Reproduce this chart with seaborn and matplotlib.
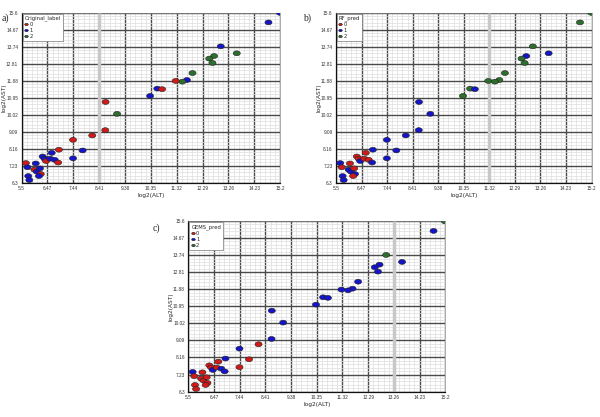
import numpy as np
import pandas as pd
import matplotlib
matplotlib.use("Agg")
import matplotlib.pyplot as plt
from matplotlib.path import Path
from matplotlib.ticker import FixedLocator
import seaborn as sns

# log2 values
alt = [15.19, 14.76, 12.97, 13.57, 12.72, 12.54, 12.66, 11.91, 11.70, 11.53,
       11.28, 10.59, 10.77, 10.32, 8.65, 9.08, 8.64, 8.15, 7.43, 7.79,
       7.43, 6.90, 6.63, 6.29, 6.36, 6.42, 6.57, 6.74, 6.87, 5.66,
       6.03, 5.72, 5.98, 6.07, 6.19, 6.22, 6.15, 5.75, 5.79]
ast = [15.58, 15.06, 13.75, 13.37, 13.22, 13.08, 12.84, 12.29, 11.91, 11.82,
       11.86, 11.44, 11.41, 11.04, 10.71, 10.06, 9.17, 8.88, 8.64, 8.06,
       7.63, 8.10, 7.93, 7.73, 7.61, 7.48, 7.61, 7.55, 7.40, 7.37,
       7.35, 7.14, 7.01, 6.90, 7.08, 6.77, 6.66, 6.66, 6.44]
original_label = [1, 1, 1, 2, 2, 2, 2, 2, 1, 2, 0, 1, 0, 1, 0, 2, 0, 0, 0, 1,
                  1, 0, 1, 1, 1, 0, 1, 1, 0, 0, 1, 1, 0, 1, 1, 0, 1, 1, 1]
rf_pred = [2, 2, 2, 1, 1, 2, 2, 2, 2, 2, 2, 2, 1, 2, 1, 1, 1, 1, 1, 1,
           1, 1, 0, 0, 0, 1, 0, 0, 1, 1, 0, 0, 1, 1, 0, 1, 0, 1, 1]
gems_pred = [2, 1, 2, 1, 1, 1, 1, 1, 1, 1, 1, 1, 1, 1, 1, 1, 1, 0, 1, 0,
             0, 1, 0, 0, 0, 1, 0, 1, 1, 1, 0, 0, 0, 0, 0, 0, 0, 0, 0]

x_ticks = [5.5, 6.47, 7.44, 8.41, 9.38, 10.35, 11.32, 12.29, 13.26, 14.23, 15.2]
y_ticks = [6.3, 7.23, 8.16, 9.09, 10.02, 10.95, 11.88, 12.81, 13.74, 14.67, 15.6]
x_tick_labels = ["5.5", "6.47", "7.44", "8.41", "9.38", "10.35", "11.32",
                 "12.29", "13.26", "14.23", "15.2"]
y_tick_labels = ["6.3", "7.23", "8.16", "9.09", "10.02", "10.95", "11.88",
                 "12.81", "13.74", "14.67", "15.6"]

df = pd.DataFrame({"ALT": alt, "AST": ast,
                   "Original_label": original_label,
                   "RF_pred": rf_pred,
                   "GEMS_pred": gems_pred})

palette = {0: "#d01a1a", 1: "#1414c8", 2: "#2c6e2c"}

# wide ellipse marker
t = np.linspace(0, 2 * np.pi, 40)
ellipse = Path(np.column_stack([1.45 * np.cos(t), np.sin(t)]), closed=True)

sns.set_style("white")
plt.rcParams["font.family"] = ["DejaVu Sans"]
narrow = ["Liberation Sans Narrow", "Liberation Sans", "DejaVu Sans"]

fig = plt.figure(figsize=(6, 4.17), dpi=100)
panels = [
    ("a)", "Original_label", [0.036, 0.562, 0.431, 0.408], 8.41, (0.003, 0.968)),
    ("b)", "RF_pred", [0.560, 0.562, 0.426, 0.408], 11.32, (0.505, 0.968)),
    ("c)", "GEMS_pred", [0.314, 0.061, 0.428, 0.409], 13.26, (0.255, 0.465)),
]

for tag, col, rect, hl, tagpos in panels:
    ax = fig.add_axes(rect)
    ax.set_xlim(5.5, 15.2)
    ax.set_ylim(6.3, 15.6)

    minor_x = np.linspace(5.5, 15.2, 51)
    minor_y = np.linspace(6.3, 15.6, 51)
    ax.xaxis.set_minor_locator(FixedLocator(minor_x))
    ax.yaxis.set_minor_locator(FixedLocator(minor_y))
    ax.grid(which="minor", color="#dddddd", linewidth=0.5)
    ax.grid(which="major", color="#4a4a4a", linewidth=1.0)
    ax.axvline(hl, color="#c8c8c8", linewidth=2.5, zorder=0.9)
    ax.set_axisbelow(True)

    sns.scatterplot(data=df, x="ALT", y="AST", hue=col, palette=palette,
                    marker=ellipse, s=26, edgecolor="#222222", linewidth=0.4,
                    ax=ax, zorder=3, legend=True)

    ax.set_xticks(x_ticks)
    ax.set_xticklabels(x_tick_labels, family=narrow)
    ax.set_yticks(y_ticks)
    ax.set_yticklabels(y_tick_labels, family=narrow)
    ax.tick_params(which="major", labelsize=3.4, length=1.5, width=0.5,
                   pad=1, colors="#333333")
    ax.tick_params(which="minor", length=0)
    ax.set_xlabel("log2(ALT)", fontsize=4.2, labelpad=1.5)
    ax.set_ylabel("log2(AST)", fontsize=4.2)
    ax.yaxis.set_label_coords(-0.058, 0.5)

    for side in ["top", "right"]:
        ax.spines[side].set_color("#888888")
        ax.spines[side].set_linewidth(0.5)
    for side in ["left", "bottom"]:
        ax.spines[side].set_color("#111111")
        ax.spines[side].set_linewidth(0.9)

    leg = ax.legend(title=col, loc="upper left", fontsize=3.8,
                    title_fontsize=3.8, markerscale=0.5, handlelength=0.6,
                    handletextpad=0.3, borderpad=0.35, labelspacing=0.2,
                    fancybox=False, framealpha=1, edgecolor="#777777",
                    borderaxespad=0.2)
    leg.get_frame().set_linewidth(0.5)
    leg._legend_box.align = "left"

    fig.text(tagpos[0], tagpos[1], tag, fontsize=7, family="Liberation Serif",
             va="top", ha="left")

fig.savefig("out.png", dpi=100)
